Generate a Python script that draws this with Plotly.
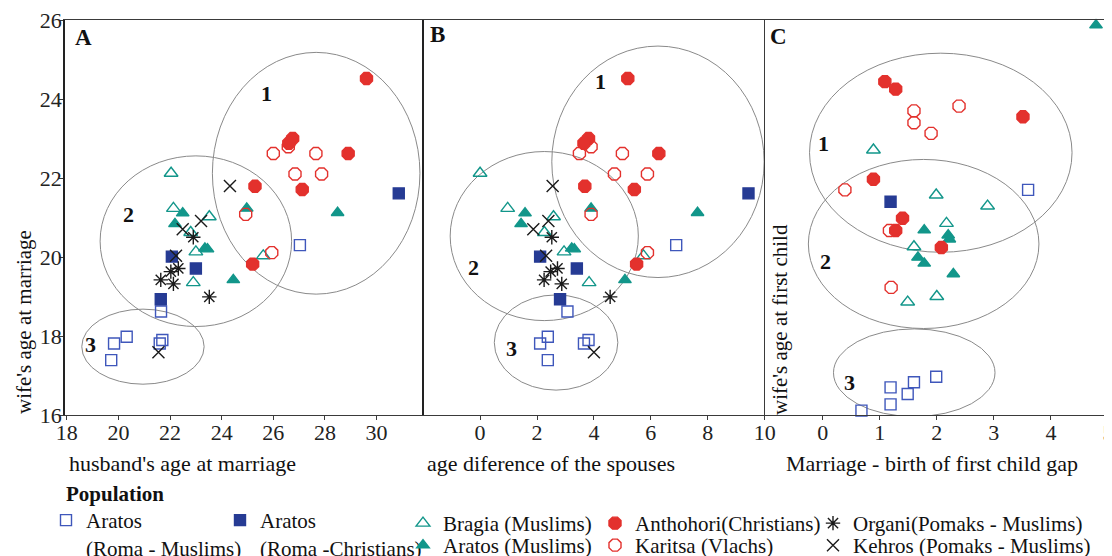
import plotly.graph_objects as go

# The page body has an 8px margin, so the figure is drawn 8px in from the window corner.
OFF = 8
W, H = 1112 - OFF, 556 - OFF
FONT = "Liberation Serif"

# ---------------- data ----------------
# Panels A & B share wife's age at marriage (y); A x = husband's age, B x = age difference
rm_husband = [27.03, 21.65, 20.32, 19.83, 19.72, 21.60, 21.70]
rm_diff    = [6.89, 3.07, 2.38, 2.11, 2.38, 3.65, 3.81]
rm_wife    = [20.30, 18.62, 17.98, 17.81, 17.39, 17.81, 17.90]
rm_gap     = [3.60, 1.19, 1.60, 1.99, 1.49, 1.19, 0.68]
rm_child   = [21.70, 16.70, 16.83, 16.97, 16.53, 16.27, 16.11]

rc_husband = [30.86, 22.07, 23.00, 21.64]
rc_diff    = [9.43, 2.11, 3.40, 2.81]
rc_wife    = [21.61, 20.01, 19.71, 18.93]
rc_gap     = [1.19]
rc_child   = [21.40]

br_husband = [22.04, 22.13, 23.52, 22.80, 23.00, 22.90, 25.61]
br_diff    = [0.00, 0.97, 2.58, 2.26, 2.95, 3.83, 5.74]
br_wife    = [22.12, 21.23, 21.02, 20.62, 20.13, 19.35, 20.03]
br_gap     = [0.89, 1.99, 2.89, 2.17, 1.60, 2.00, 1.49]
br_child   = [22.71, 21.57, 21.29, 20.85, 20.26, 19.00, 18.86]

am_husband = [22.49, 22.19, 23.35, 23.45, 24.45, 24.97, 28.49]
am_diff    = [1.58, 1.44, 3.22, 3.31, 5.09, 3.90, 7.64]
am_wife    = [21.11, 20.84, 20.22, 20.20, 19.42, 21.23, 21.12]
am_gap     = [4.79, 1.78, 2.20, 2.22, 1.67, 1.78, 2.29]
am_child   = [25.87, 20.68, 20.55, 20.45, 19.99, 19.84, 19.57]

an_husband = [29.61, 26.75, 26.60, 28.90, 25.29, 27.12, 25.20]
an_diff    = [5.19, 3.81, 3.65, 6.28, 3.68, 5.42, 5.50]
an_wife    = [24.52, 23.00, 22.88, 22.62, 21.79, 21.71, 19.82]
an_gap     = [1.09, 1.28, 3.51, 0.89, 1.40, 1.28, 2.08]
an_child   = [24.44, 24.25, 23.55, 21.97, 20.98, 20.67, 20.24]

ka_husband = [26.58, 26.00, 27.65, 26.84, 27.87, 24.93, 25.94]
ka_diff    = [3.90, 3.49, 5.00, 4.72, 5.88, 3.90, 5.88]
ka_wife    = [22.79, 22.62, 22.62, 22.10, 22.10, 21.08, 20.11]
ka_gap     = [1.60, 1.60, 2.39, 1.90, 0.39, 1.17, 1.20]
ka_child   = [23.70, 23.40, 23.82, 23.13, 21.70, 20.67, 19.23]

or_husband = [22.90, 22.32, 22.03, 21.64, 22.13, 23.52]
or_diff    = [2.52, 2.72, 2.48, 2.25, 2.87, 4.57]
or_wife    = [20.50, 19.71, 19.63, 19.42, 19.32, 18.99]

ke_husband = [24.32, 22.49, 23.20, 22.23, 21.55]
ke_diff    = [2.55, 1.87, 2.40, 2.32, 4.00]
ke_wife    = [21.80, 20.70, 20.91, 20.03, 17.59]

x_ticks_a = [18, 20, 22, 24, 26, 28, 30]
x_ticks_b = [0, 2, 4, 6, 8, 10]
x_ticks_c = [0, 1, 2, 3, 4, 5]
y_ticks_a = [16, 18, 20, 22, 24, 26]

# ---------------- styling ----------------
BLUE_L = "#3f57bb"
BLUE_D = "#263b94"
TEAL = "#12968a"
RED = "#e3312d"
BLACK = "#1a1a1a"

series = [
    dict(name="Aratos<br>(Roma - Muslims)", legend="legend", sym="square-open", size=11, color=BLUE_L,
         A=(rm_husband, rm_wife), B=(rm_diff, rm_wife), C=(rm_gap, rm_child)),
    dict(name="Aratos<br>(Roma -Christians)", legend="legend2", sym="square", size=11, color=BLUE_D,
         A=(rc_husband, rc_wife), B=(rc_diff, rc_wife), C=(rc_gap, rc_child)),
    dict(name="Bragia (Muslims)", legend="legend3", sym="triangle-up-open", size=12, color=TEAL,
         A=(br_husband, br_wife), B=(br_diff, br_wife), C=(br_gap, br_child)),
    dict(name="Aratos (Muslims)", legend="legend4", sym="triangle-up", size=11, color=TEAL,
         A=(am_husband, am_wife), B=(am_diff, am_wife), C=(am_gap, am_child)),
    dict(name="Karitsa (Vlachs)", legend="legend6", sym="octagon-open", size=13, color=RED,
         A=(ka_husband, ka_wife), B=(ka_diff, ka_wife), C=(ka_gap, ka_child)),
    dict(name="Anthohori(Christians)", legend="legend5", sym="octagon", size=13, color=RED,
         A=(an_husband, an_wife), B=(an_diff, an_wife), C=(an_gap, an_child)),
    dict(name="Organi(Pomaks - Muslims)", legend="legend7", sym="asterisk-open", size=12, color=BLACK,
         A=(or_husband, or_wife), B=(or_diff, or_wife), C=None),
    dict(name="Kehros (Pomaks - Muslims)", legend="legend8", sym="x-thin-open", size=12, color=BLACK,
         A=(ke_husband, ke_wife), B=(ke_diff, ke_wife), C=None),
]

fig = go.Figure()
panels = [("A", "x", "y"), ("B", "x2", "y2"), ("C", "x3", "y3")]
for s in series:
    for i, (p, xa, ya) in enumerate(panels):
        d = s[p]
        if d is None:
            continue
        fig.add_trace(go.Scatter(
            x=d[0], y=d[1], mode="markers", name=s["name"], xaxis=xa, yaxis=ya,
            legend=s["legend"], showlegend=(i == 0), cliponaxis=False,
            marker=dict(symbol=s["sym"], size=s["size"], color=s["color"],
                        line=dict(color=s["color"], width=1.4)),
        ))

# ---------------- geometry (window pixels -> paper fractions) ----------------
def px(x):
    return (x - OFF) / W

def py(y):
    return 1 - (y - OFF) / H

dom_y = [py(415), py(20)]
LINE = "#3a3a3a"
axis_common = dict(showline=True, linecolor=LINE, linewidth=1.2, mirror=True,
                   showgrid=False, zeroline=False, ticklabeloverflow="allow",
                   tickfont=dict(family=FONT, size=22, color="#222"),
                   ticks="outside", ticklen=4, tickcolor=LINE)

fig.update_layout(
    width=W, height=H, margin=dict(l=0, r=0, t=0, b=0, autoexpand=False),
    paper_bgcolor="white", plot_bgcolor="white",
    xaxis=dict(axis_common, domain=[px(65), px(422)], range=[17.93, 31.76], tickvals=x_ticks_a, anchor="y"),
    yaxis=dict(axis_common, domain=dom_y, range=[16, 26], tickvals=y_ticks_a, anchor="x", linewidth=1.7,
               linecolor="#222"),
    xaxis2=dict(axis_common, domain=[px(422), px(765)], range=[-2.04, 10.01], tickvals=x_ticks_b, anchor="y2"),
    yaxis2=dict(axis_common, domain=dom_y, range=[16, 26], showticklabels=False, ticks="",
                showline=False, anchor="x2"),
    xaxis3=dict(axis_common, domain=[px(765), px(1108)], range=[-1.01, 5.0], tickvals=x_ticks_c, anchor="y3"),
    yaxis3=dict(axis_common, domain=dom_y, range=[16, 26], showticklabels=False, ticks="", anchor="x3"),
    font=dict(family=FONT, size=21, color="#111"),
)
# pull tick labels closer to the axes, as in the reference
try:
    fig.update_xaxes(ticklabelstandoff=-7)
    fig.update_yaxes(ticklabelstandoff=-7)
except ValueError:
    pass

# ---------------- legends ----------------
leg_base = dict(xanchor="left", yanchor="top", bgcolor="rgba(0,0,0,0)", borderwidth=0,
                font=dict(family=FONT, size=21, color="#111"), itemwidth=30,
                valign="top", orientation="v", tracegroupgap=0)
ROW1, ROW2 = 503, 525
leg_pos = {
    "legend": (46, ROW1 - 3), "legend2": (220, ROW1 - 3), "legend3": (403, ROW1), "legend4": (403, ROW2),
    "legend5": (595, ROW1), "legend6": (595, ROW2), "legend7": (813, ROW1), "legend8": (813, ROW2),
}
for k, (lx, ly) in leg_pos.items():
    fig.update_layout({k: dict(leg_base, x=px(lx), y=py(ly))})

# ---------------- ellipses (cluster outlines) ----------------
ellipses = [
    ("x", "y", 23.64, 31.68, 19.06, 25.18), ("x", "y", 19.29, 26.71, 18.24, 22.56), ("x", "y", 18.58, 23.32, 16.78, 18.68),
    ("x2", "y2", 2.52, 9.98, 19.48, 25.34), ("x2", "y2", -1.05, 5.56, 18.39, 22.67), ("x2", "y2", 0.50, 4.84, 16.63, 19.04),
    ("x3", "y3", -0.23, 4.37, 20.12, 25.16), ("x3", "y3", -0.25, 3.79, 18.19, 22.47), ("x3", "y3", 0.19, 3.02, 15.96, 18.18),
]
for xr, yr, x0, x1, y0, y1 in ellipses:
    fig.add_shape(type="circle", xref=xr, yref=yr, x0=x0, x1=x1, y0=y0, y1=y1,
                  line=dict(color="#8a8a8a", width=1), layer="below")

# ---------------- text annotations ----------------
def ann(text, x, y, size=21, bold=False, angle=0, xanchor="center"):
    t = f"<b>{text}</b>" if bold else text
    fig.add_annotation(text=t, x=px(x), y=py(y), xref="paper", yref="paper", showarrow=False,
                       textangle=angle, xanchor=xanchor, yanchor="middle",
                       font=dict(family=FONT, size=size, color="#111"))

for lab, x, y in [("A", 83, 37), ("B", 437, 34), ("C", 778, 36)]:
    ann(lab, x, y, size=23, bold=True)
for lab, x, y in [("1", 266, 93), ("2", 128, 214), ("3", 90, 344),
                  ("1", 600, 81), ("2", 473, 267), ("3", 512, 348),
                  ("1", 823, 143), ("2", 825, 262), ("3", 849, 382)]:
    ann(lab, x, y, size=22, bold=True)

ann("wife's age at marriage", 24, 322, angle=-90)
ann("wife's age at first child", 780, 320, angle=-90)
ann("husband's age at marriage", 182, 463, size=22)
ann("age diference of the spouses", 551, 463, size=22)
ann("Marriage - birth of first child gap", 932, 463, size=22)
ann("Population", 64, 494, bold=True, xanchor="left")

fig.write_html("out.html")
